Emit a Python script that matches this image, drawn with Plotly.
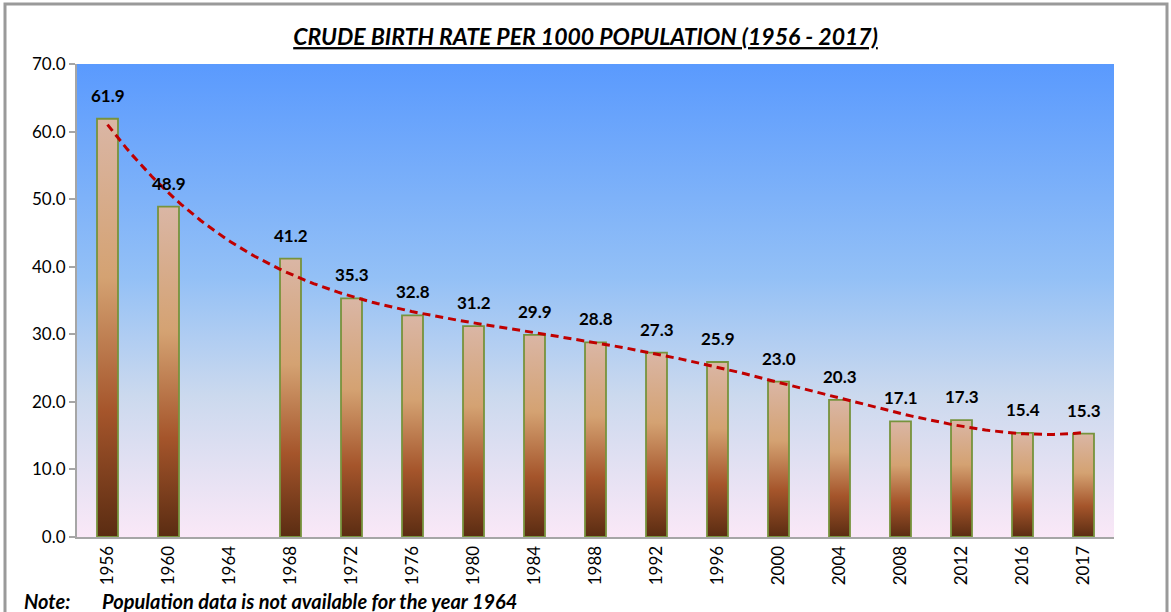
import numpy as np
import plotly.graph_objects as go

years = ["1956", "1960", "1964", "1968", "1972", "1976", "1980", "1984", "1988",
         "1992", "1996", "2000", "2004", "2008", "2012", "2016", "2017"]
rates = [61.9, 48.9, None, 41.2, 35.3, 32.8, 31.2, 29.9, 28.8,
         27.3, 25.9, 23.0, 20.3, 17.1, 17.3, 15.4, 15.3]
y_ticks = [0, 10, 20, 30, 40, 50, 60, 70]

title_text = "CRUDE BIRTH RATE PER 1000 POPULATION (1956 - 2017)"
note_label = "Note:"
note_text = "Population data is not available for the year 1964"

FONT = "Lato"
BAR_HALF = 0.172
TREND_ORDER = 4
N = len(years)
idx = list(range(N))

fig = go.Figure()

# plot-area background gradient
fig.add_trace(go.Scatter(
    x=[-0.5, N - 0.5, N - 0.5, -0.5, -0.5],
    y=[0, 0, 70, 70, 0],
    mode="lines", line=dict(width=0), fill="toself",
    fillgradient=dict(type="vertical",
                      colorscale=[[0, "#fae8f7"], [0.3, "#cbd9ee"],
                                  [0.55, "#93c0f6"], [1, "#5a9afe"]]),
    hoverinfo="skip", showlegend=False))

# bars with vertical gradient
bar_scale = [[0, "#5a2c12"], [0.3, "#a5552b"], [0.62, "#d4a272"], [1, "#dab6a5"]]
for i, v in zip(idx, rates):
    if v is None:
        continue
    fig.add_trace(go.Scatter(
        x=[i - BAR_HALF, i + BAR_HALF, i + BAR_HALF, i - BAR_HALF, i - BAR_HALF],
        y=[0, 0, v, v, 0],
        mode="lines", line=dict(color="#77933c", width=1.8), fill="toself",
        fillgradient=dict(type="vertical", colorscale=bar_scale),
        name=years[i], hoverinfo="skip", showlegend=False))

# polynomial trendline fitted to the data
xs = np.array([i + 1 for i, v in zip(idx, rates) if v is not None], dtype=float)
ys = np.array([v for v in rates if v is not None], dtype=float)
coef = np.polyfit(xs, ys, TREND_ORDER)
xt = np.linspace(1, N, 200)
yt = np.polyval(coef, xt)
fig.add_trace(go.Scatter(x=xt - 1, y=yt, mode="lines",
                         line=dict(color="#c00000", width=3, dash="8px,5px"),
                         hoverinfo="skip", showlegend=False))

for i, v in zip(idx, rates):
    if v is None:
        continue
    fig.add_annotation(x=i, y=v, text=f"<b>{v:.1f}</b>", showarrow=False,
                       yanchor="bottom", yshift=11,
                       font=dict(family=FONT, size=17, color="#000000"))

fig.add_annotation(xref="paper", yref="paper", x=(22 - 77) / 1037, y=(537 - 601) / 473,
                   xanchor="left", yanchor="middle", showarrow=False,
                   text=f"<b><i>{note_label}</i></b>",
                   font=dict(family=FONT, size=20, color="#000000"))
fig.add_annotation(xref="paper", yref="paper", x=(100 - 77) / 1037, y=(537 - 601) / 473,
                   xanchor="left", yanchor="middle", showarrow=False,
                   text=f"<b><i>{note_text}</i></b>",
                   font=dict(family=FONT, size=20, color="#000000"))

# outer frame
fig.add_shape(type="rect", xref="paper", yref="paper",
              x0=(5 - 77) / 1037, x1=(1167 - 77) / 1037,
              y0=-0.3, y1=(537 - 4) / 473,
              line=dict(color="#9a9a9a", width=3), fillcolor="rgba(0,0,0,0)",
              layer="below")

fig.update_layout(
    width=1171, height=612,
    margin=dict(l=77, r=57, t=64, b=75),
    paper_bgcolor="#ffffff", plot_bgcolor="rgba(0,0,0,0)",
    title=dict(text=f"<b><i><u>{title_text}</u></i></b>", x=0.5, xref="container",
               y=1 - 37 / 612, yanchor="middle",
               font=dict(family=FONT, size=23, color="#000000")),
    font=dict(family=FONT, color="#000000"),
    showlegend=False,
)
fig.update_xaxes(range=[-0.5, N - 0.5], tickvals=idx, ticktext=years,
                 tickangle=-90, showgrid=False, zeroline=False,
                 showline=True, linecolor="#a6a6a6", linewidth=2,
                 ticks="", tickfont=dict(family=FONT, size=17, color="#000000"))
fig.update_yaxes(range=[0, 70], tickvals=y_ticks,
                 ticktext=[f"{t:.1f}" for t in y_ticks],
                 showgrid=False, zeroline=False, showline=True,
                 linecolor="#a6a6a6", linewidth=2, ticks="outside", ticklen=6,
                 tickcolor="#a6a6a6", tickwidth=2,
                 tickfont=dict(family=FONT, size=17, color="#000000"))

fig.write_html("out.html", config={"displayModeBar": False},
               post_script="document.body.style.margin='0';")
